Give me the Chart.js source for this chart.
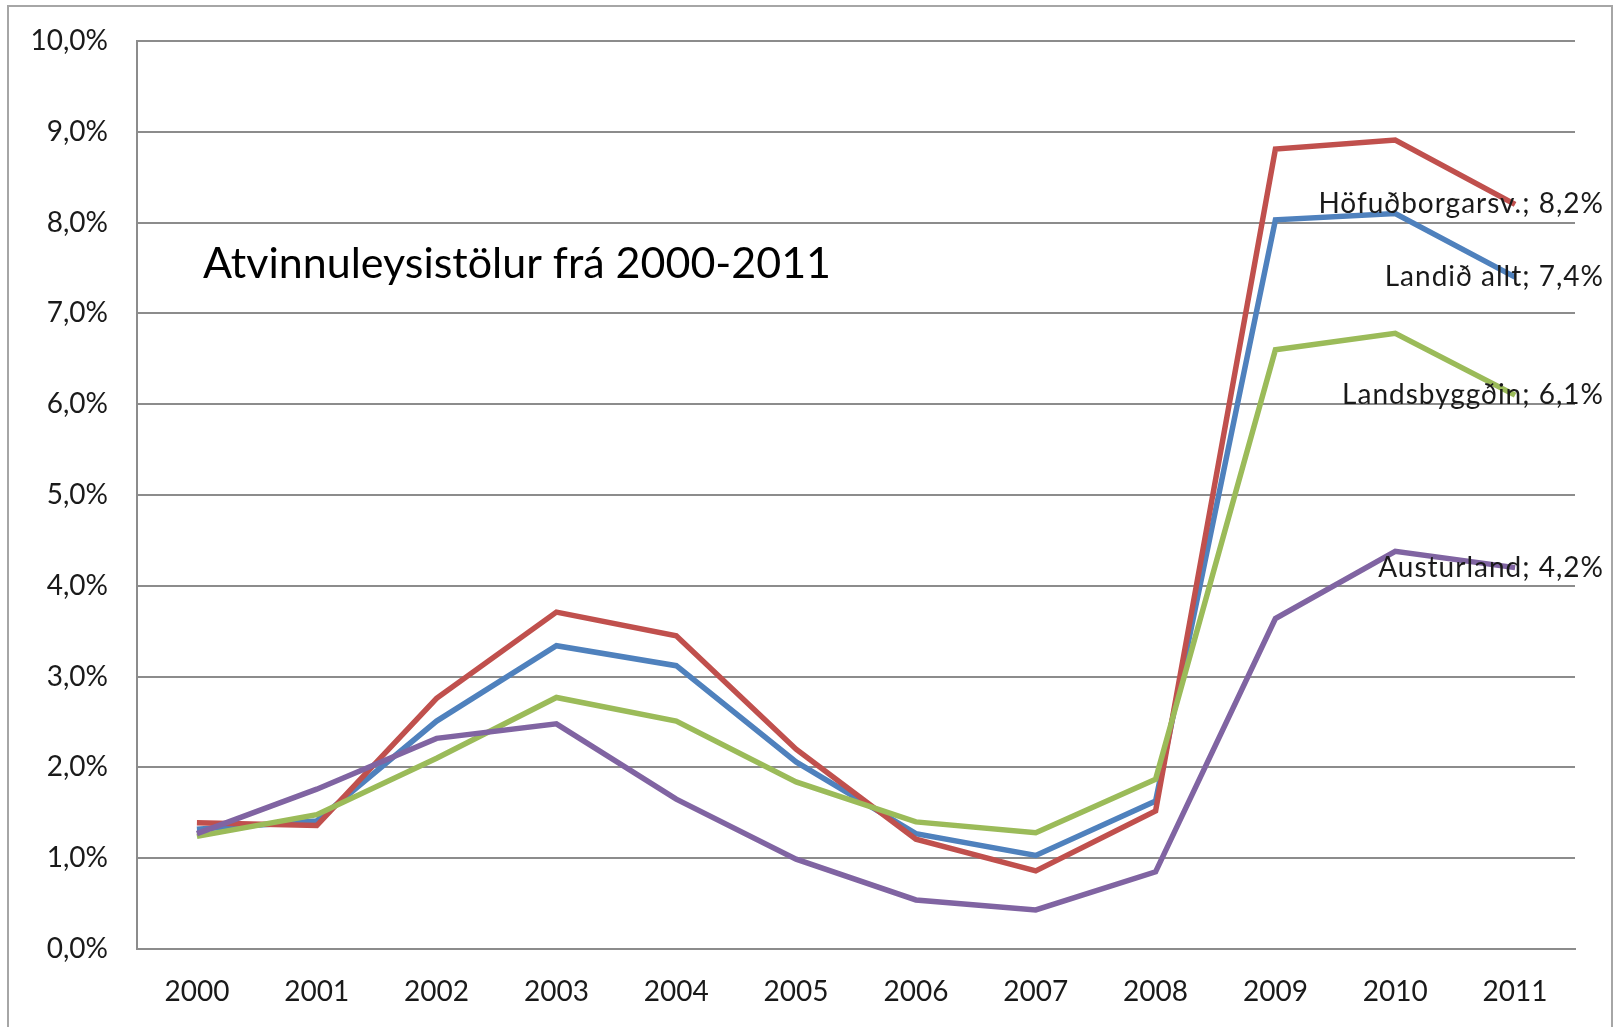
<!DOCTYPE html>
<html>
<head>
<meta charset="utf-8">
<script src="https://cdn.jsdelivr.net/npm/chart.js@4.4.1/dist/chart.umd.min.js"></script>
<style>
  html, body { margin: 0; padding: 0; background: #fff; }
  #wrap { position: relative; width: 1616px; height: 1027px; }
</style>
</head>
<body>
<div id="wrap"><canvas id="lineChart" width="1616" height="1027"></canvas></div>
<script>
// --- DATA ---
const years = ['2000', '2001', '2002', '2003', '2004', '2005', '2006', '2007', '2008', '2009', '2010', '2011'];
const hofudborgarsv = [1.39, 1.36, 2.76, 3.71, 3.45, 2.20, 1.21, 0.86, 1.52, 8.81, 8.91, 8.2];
const landidAllt = [1.32, 1.41, 2.51, 3.34, 3.12, 2.06, 1.27, 1.03, 1.63, 8.03, 8.1, 7.4];
const landsbyggdin = [1.24, 1.48, 2.10, 2.77, 2.51, 1.84, 1.40, 1.28, 1.87, 6.60, 6.78, 6.1];
const austurland = [1.27, 1.76, 2.32, 2.48, 1.65, 0.99, 0.54, 0.43, 0.85, 3.64, 4.38, 4.2];
const chartTitle = 'Atvinnuleysistölur frá 2000-2011';

const FONT = 'Lato, "Open Sans", sans-serif';
const fmt = (v) => v.toFixed(1).replace('.', ',') + '%';

// outer frame around the whole chart object
const framePlugin = {
    id: 'frame',
    beforeDraw(chart) {
        const ctx = chart.ctx;
        ctx.save();
        ctx.fillStyle = '#fff';
        ctx.fillRect(0, 0, chart.width, chart.height);
        ctx.strokeStyle = '#a6a6a6';
        ctx.lineWidth = 2;
        ctx.strokeRect(8, 6, chart.width - 12, chart.height + 20);
        ctx.restore();
    }
};

// text box with the title + end-of-line labels
const labelPlugin = {
    id: 'endLabels',
    afterDatasetsDraw(chart) {
        const ctx = chart.ctx;
        const area = chart.chartArea;
        ctx.save();
        ctx.fillStyle = '#000';
        ctx.font = '43px ' + FONT;
        ctx.textAlign = 'left';
        ctx.textBaseline = 'middle';
        ctx.fillText(chartTitle, area.left + 66, 264);

        ctx.font = '28px ' + FONT;
        ctx.letterSpacing = '1px';
        ctx.textAlign = 'right';
        ctx.fillStyle = '#1a1a1a';
        chart.data.datasets.forEach((ds, i) => {
            const meta = chart.getDatasetMeta(i);
            const last = meta.data[meta.data.length - 1];
            const val = ds.data[ds.data.length - 1];
            ctx.fillText(ds.label + '; ' + fmt(val), chart.width - 12, last.y);
        });
        ctx.restore();
    }
};

const ctxLine = document.getElementById('lineChart').getContext('2d');
window.lineChart = new Chart(ctxLine, {
    type: 'line',
    data: {
        labels: years,
        datasets: [
            { label: 'Höfuðborgarsv.', data: hofudborgarsv, borderColor: '#c0504d', order: 3 },
            { label: 'Landið allt', data: landidAllt, borderColor: '#4f81bd', order: 4 },
            { label: 'Landsbyggðin', data: landsbyggdin, borderColor: '#9bbb59', order: 2 },
            { label: 'Austurland', data: austurland, borderColor: '#8064a2', order: 1 }
        ].map(d => Object.assign(d, { borderWidth: 5.5, pointRadius: 0, tension: 0, fill: false, borderJoinStyle: 'miter' }))
    },
    options: {
        responsive: false,
        animation: false,
        layout: { padding: { left: 0, top: 41, right: 41, bottom: 0 } },
        plugins: {
            legend: { display: false },
            tooltip: { enabled: false },
            title: { display: false }
        },
        scales: {
            y: {
                min: 0,
                max: 10,
                afterFit: (s) => { s.width = 137; s.paddingTop = 0; s.paddingBottom = 0; },
                border: { color: '#8c8c8c', width: 2 },
                grid: { color: '#8c8c8c', lineWidth: 2, drawTicks: false },
                ticks: {
                    stepSize: 1,
                    padding: 29,
                    color: '#1a1a1a',
                    font: { family: FONT, size: 28 },
                    callback: (v) => fmt(v)
                }
            },
            x: {
                offset: true,
                afterFit: (s) => { s.height = 78; },
                border: { color: '#8c8c8c', width: 2 },
                grid: { display: false, drawTicks: false },
                ticks: {
                    padding: 26,
                    maxRotation: 0,
                    color: '#1a1a1a',
                    font: { family: FONT, size: 28 }
                }
            }
        }
    },
    plugins: [framePlugin, labelPlugin]
});
</script>
</body>
</html>
